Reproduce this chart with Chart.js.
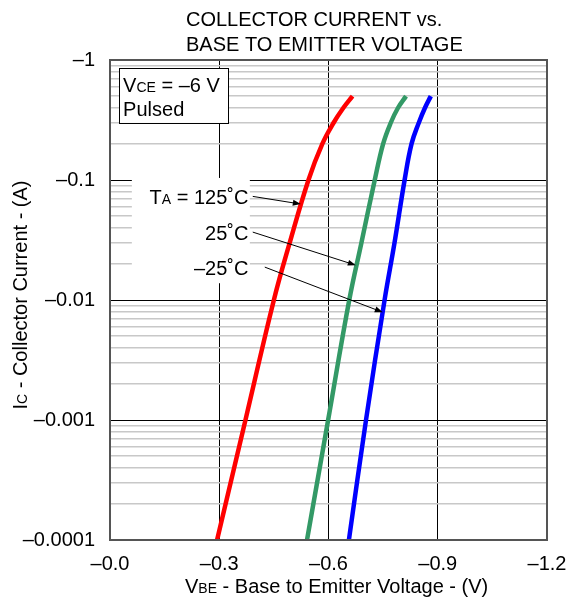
<!DOCTYPE html>
<html>
<head>
<meta charset="utf-8">
<script src="https://cdn.jsdelivr.net/npm/chart.js@4.4.0/dist/chart.umd.min.js"></script>
<style>
html, body { margin: 0; padding: 0; background: #fff; }
canvas { display: block; }
</style>
</head>
<body>
<canvas id="vbeChart" width="571" height="603"></canvas>
<script>
// collector current (A), the same levels were read on every curve
const collectorCurrent = [-0.0001, -0.001, -0.01, -0.0296, -0.1, -0.2, -0.3, -0.4, -0.5];
// base to emitter voltage (V) at those currents
const vbe125 = [-0.294, -0.372, -0.45, -0.493, -0.545, -0.583, -0.614, -0.641, -0.666];
const vbe25 = [-0.541, -0.599, -0.657, -0.690, -0.727, -0.750, -0.771, -0.791, -0.813];
const vbeMinus25 = [-0.656, -0.703, -0.754, -0.781, -0.809, -0.828, -0.848, -0.865, -0.881];
const curveColors = ['#ff0000', '#339966', '#0000ff'];

const xTicks = [0, -0.3, -0.6, -0.9, -1.2];
const yDecades = [-0.0001, -0.001, -0.01, -0.1, -1];

// temperature callouts: text anchor and arrow, in data units
const tempLabels = ['125˚C', '25˚C', '–25˚C'];
const labelV = -0.38;
const labelI = [-0.072, -0.036, -0.0186];
const arrowFrom = [[-0.392, -0.073], [-0.392, -0.0368], [-0.425, -0.0188]];
const arrowTo = [[-0.524, -0.063], [-0.675, -0.0195], [-0.749, -0.0079]];
const patchCorners = [[-0.06, -0.104], [-0.384, -0.0138]];
const boxCorners = [[-0.025, -0.858], [-0.324, -0.299]];

const FONT = "'Liberation Sans', Arial, sans-serif";

function isDecade(v) {
    const l = Math.log10(v);
    return Math.abs(l - Math.round(l)) < 1e-6;
}

function toPoints(vs) {
    return vs.map((v, i) => ({ x: v, y: Math.abs(collectorCurrent[i]) }));
}

// text with small "subscript" parts sitting on the same baseline
function richText(ctx, parts, x, y, align) {
    let w = 0;
    parts.forEach(p => { ctx.font = p[1] + 'px ' + FONT; w += ctx.measureText(p[0]).width; });
    let cx = align === 'right' ? x - w : (align === 'center' ? x - w / 2 : x);
    ctx.textAlign = 'left';
    ctx.textBaseline = 'alphabetic';
    parts.forEach(p => {
        ctx.font = p[1] + 'px ' + FONT;
        ctx.fillText(p[0], cx, y);
        cx += ctx.measureText(p[0]).width;
    });
}

const decorPlugin = {
    id: 'decor',
    beforeDatasetsDraw(chart) {
        const ctx = chart.ctx;
        const xs = chart.scales.x, ys = chart.scales.y;
        const px = v => xs.getPixelForValue(v);
        const py = i => ys.getPixelForValue(Math.abs(i));
        ctx.save();
        ctx.fillStyle = '#fff';
        // white patch behind the temperature labels
        const pl = px(patchCorners[0][0]), pt = py(patchCorners[0][1]);
        const pr = px(patchCorners[1][0]), pb = py(patchCorners[1][1]);
        ctx.fillRect(pl, pt, pr - pl, pb - pt);
        // condition box
        const bl = px(boxCorners[0][0]), bt = py(boxCorners[0][1]);
        const br = px(boxCorners[1][0]), bb = py(boxCorners[1][1]);
        ctx.fillRect(bl, bt, br - bl, bb - bt);
        ctx.strokeStyle = '#000';
        ctx.lineWidth = 1;
        ctx.strokeRect(Math.round(bl) + 0.5, Math.round(bt) + 0.5, Math.round(br - bl), Math.round(bb - bt));
        ctx.fillStyle = '#000';
        richText(ctx, [['V', 20], ['CE', 14], [' = –6 V', 20]], bl + 4, bt + 24, 'left');
        richText(ctx, [['Pulsed', 20]], bl + 4, bt + 48, 'left');
        // temperature labels
        tempLabels.forEach((t, k) => {
            const y = py(labelI[k]) + 7;
            if (k === 0) richText(ctx, [['T', 20], ['A', 14], [' = ' + t, 20]], px(labelV), y, 'right');
            else richText(ctx, [[t, 20]], px(labelV), y, 'right');
        });
        ctx.restore();
    },
    afterDatasetsDraw(chart) {
        const ctx = chart.ctx;
        const xs = chart.scales.x, ys = chart.scales.y;
        const px = v => xs.getPixelForValue(v);
        const py = i => ys.getPixelForValue(Math.abs(i));
        const a = chart.chartArea;
        ctx.save();
        ctx.strokeStyle = '#000';
        ctx.fillStyle = '#000';
        ctx.lineWidth = 1;
        arrowFrom.forEach((f, k) => {
            const x0 = px(f[0]), y0 = py(f[1]);
            const x1 = px(arrowTo[k][0]), y1 = py(arrowTo[k][1]);
            const ang = Math.atan2(y1 - y0, x1 - x0);
            ctx.beginPath();
            ctx.moveTo(x0, y0);
            ctx.lineTo(x1 - 6 * Math.cos(ang), y1 - 6 * Math.sin(ang));
            ctx.stroke();
            ctx.beginPath();
            ctx.moveTo(x1, y1);
            ctx.lineTo(x1 - 8 * Math.cos(ang) + 3 * Math.sin(ang), y1 - 8 * Math.sin(ang) - 3 * Math.cos(ang));
            ctx.lineTo(x1 - 8 * Math.cos(ang) - 3 * Math.sin(ang), y1 - 8 * Math.sin(ang) + 3 * Math.cos(ang));
            ctx.closePath();
            ctx.fill();
        });
        // plot frame
        ctx.strokeStyle = '#555';
        ctx.lineWidth = 2;
        ctx.strokeRect(a.left, a.top, a.right - a.left, a.bottom - a.top);
        ctx.restore();
    },
    afterDraw(chart) {
        const ctx = chart.ctx;
        const a = chart.chartArea;
        ctx.save();
        ctx.fillStyle = '#000';
        richText(ctx, [['COLLECTOR CURRENT vs.', 20]], 186, 26, 'left');
        richText(ctx, [['BASE TO EMITTER VOLTAGE', 20]], 186, 51, 'left');
        richText(ctx, [['V', 20], ['BE', 14], [' - Base to Emitter Voltage - (V)', 20]], 185, 593, 'left');
        ctx.translate(27, (a.top + a.bottom) / 2 - 5);
        ctx.rotate(-Math.PI / 2);
        richText(ctx, [['I', 20], ['C', 14], [' - Collector Current - (A)', 20]], 0, 0, 'center');
        ctx.restore();
    }
};

new Chart(document.getElementById('vbeChart'), {
    type: 'line',
    data: {
        datasets: [vbe125, vbe25, vbeMinus25].map((vs, k) => ({
            data: toPoints(vs),
            borderColor: curveColors[k],
            borderWidth: 4.5,
            borderCapStyle: 'butt',
            pointRadius: 0,
            tension: 0.4,
            fill: false
        }))
    },
    options: {
        responsive: false,
        animation: false,
        devicePixelRatio: 1,
        layout: { padding: { top: 60, right: 24, left: 0, bottom: 0 } },
        plugins: { legend: { display: false }, tooltip: { enabled: false }, title: { display: false } },
        scales: {
            x: {
                type: 'linear',
                min: -1.2,
                max: 0,
                reverse: true,
                afterBuildTicks: s => { s.ticks = xTicks.map(v => ({ value: v })); },
                afterFit: s => { s.height = 63; s.paddingLeft = 0; s.paddingRight = 0; },
                grid: { drawTicks: false, color: '#000', lineWidth: 1 },
                border: { display: false },
                ticks: {
                    padding: 12,
                    maxRotation: 0,
                    color: '#000',
                    font: { family: FONT, size: 20 },
                    callback: v => '–' + Math.abs(v).toFixed(1)
                }
            },
            y: {
                type: 'logarithmic',
                min: 0.0001,
                max: 1,
                afterBuildTicks: s => {
                    const t = [];
                    yDecades.forEach((d, k) => {
                        const base = Math.abs(d);
                        if (k < yDecades.length - 1) {
                            for (let m = 1; m < 10; m++) t.push({ value: base * m });
                        } else {
                            t.push({ value: base });
                        }
                    });
                    s.ticks = t;
                },
                afterFit: s => { s.width = 110; s.paddingTop = 0; s.paddingBottom = 0; },
                grid: {
                    drawTicks: false,
                    color: c => isDecade(c.tick.value) ? '#000' : '#c8c8c8',
                    lineWidth: c => isDecade(c.tick.value) ? 1 : 1.5
                },
                border: { display: false },
                ticks: {
                    autoSkip: false,
                    padding: 15,
                    color: '#000',
                    font: { family: FONT, size: 20 },
                    callback: v => isDecade(v) ? '–' + String(Number(v.toPrecision(1))) : ''
                }
            }
        }
    },
    plugins: [decorPlugin]
});
</script>
</body>
</html>
